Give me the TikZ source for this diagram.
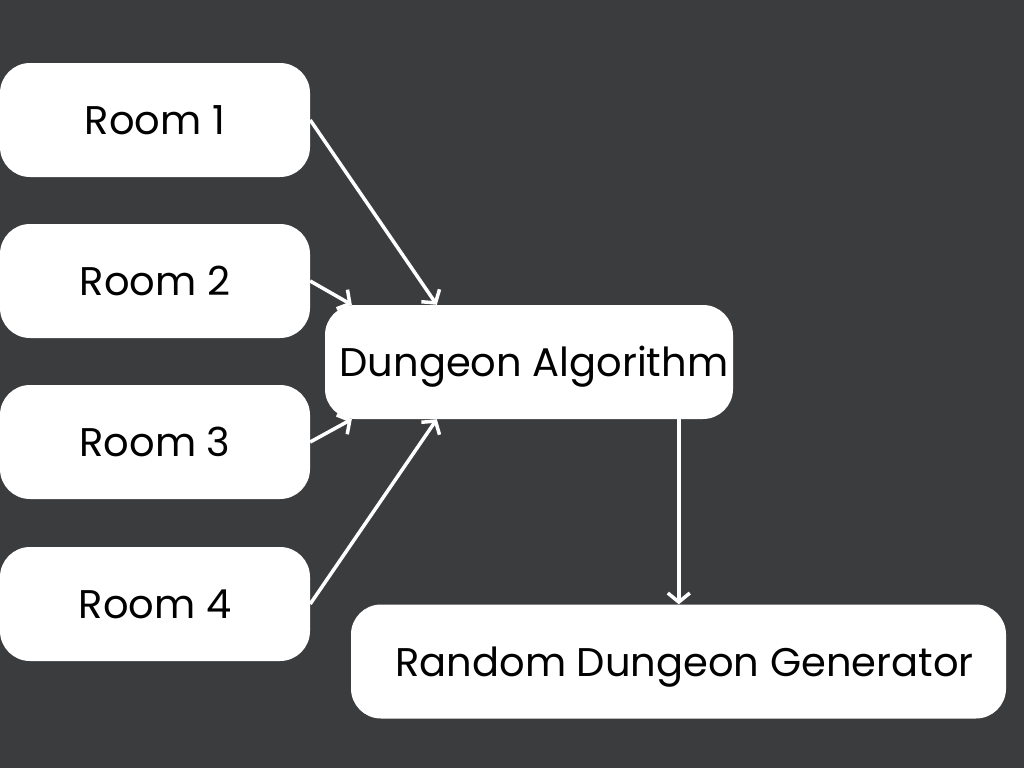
\documentclass[tikz,border=0pt]{standalone}
\usepackage{fontspec}
\setmainfont{Poppins}
\usetikzlibrary{arrows.meta,calc}
\definecolor{bg}{HTML}{3B3C3E}
\tikzset{
  box/.style={draw=none, fill=white, rounded corners=30pt, inner sep=0pt,
    minimum height=114pt, text height=29pt, text depth=0pt,
    font=\fontsize{40}{46}\selectfont, text=black},
  conn/.style={draw=white, line width=3.5pt,
    -{Straight Barb[length=9pt,width=22pt,line width=3.5pt]}}
}
\begin{document}
\begin{tikzpicture}[x=1pt,y=-1pt]
\fill[bg] (0,0) rectangle (1024,768);
\useasboundingbox (0,0) rectangle (1024,768);
\node[box, minimum width=310pt] (r1) at (155,120) {Room 1};
\node[box, minimum width=310pt] (r2) at (155,281) {Room 2};
\node[box, minimum width=310pt] (r3) at (155,442) {Room 3};
\node[box, minimum width=310pt] (r4) at (155,604) {Room 4};
\node[box, minimum width=408pt] (da) at (529,362) {\hspace*{10pt}Dungeon Algorithm};
\node[box, minimum width=655pt] (rg) at (678.5,661.5) {\hspace*{12pt}Random Dungeon Generator};
\coordinate (t1) at ($(da.north west)+(112,0)$);
\coordinate (t2) at ($(da.north west)+(27,0)$);
\coordinate (t3) at ($(da.south west)+(27,0)$);
\coordinate (t4) at ($(da.south west)+(112,0)$);
\coordinate (s5) at ($(da.south west)+(354,0)$);
\coordinate (t5) at ($(rg.north west)+(328,0)$);
\draw[conn] (r1.east) -- (t1);
\draw[conn] (r2.east) -- (t2);
\draw[conn] (r3.east) -- (t3);
\draw[conn] (r4.east) -- (t4);
\draw[conn] (s5) -- (t5);
\end{tikzpicture}
\end{document}
